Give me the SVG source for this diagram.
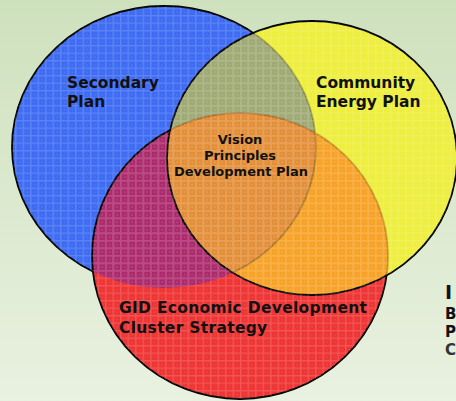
<svg xmlns="http://www.w3.org/2000/svg" xmlns:xlink="http://www.w3.org/1999/xlink" width="456" height="401" viewBox="0 0 456 401">
  <defs>
    <linearGradient id="bg" x1="0" y1="0" x2="0" y2="1">
      <stop offset="0" stop-color="#cee1bd"/>
      <stop offset="1" stop-color="#e9f1e0"/>
    </linearGradient>
    <pattern id="grid" width="7.5" height="7.5" patternUnits="userSpaceOnUse">
      <path d="M0 0.75H7.5M0.75 0V7.5" stroke="#ffffff" stroke-width="1.5" fill="none"/>
      <rect x="4" y="4" width="1.5" height="1.5" fill="#ffffff" opacity="0.6"/>
    </pattern>
    <clipPath id="cB"><ellipse cx="164" cy="147" rx="152" ry="141"/></clipPath>
    <clipPath id="cY"><ellipse cx="312" cy="158" rx="145" ry="137"/></clipPath>
    <clipPath id="cR"><ellipse cx="240" cy="256" rx="148" ry="143"/></clipPath>
    <ellipse id="eB" cx="164" cy="147" rx="152" ry="141"/>
    <ellipse id="eY" cx="312" cy="158" rx="145" ry="137"/>
    <ellipse id="eR" cx="240" cy="256" rx="148" ry="143"/>
    <style>
      .lbl { font-family: "DejaVu Sans", Verdana, sans-serif; font-weight: bold; fill: #111111; }
      .big { font-size: 15.5px; }
      .mid { font-size: 13px; }
      .edge { fill: none; stroke: #000000; stroke-width: 1.8; }
    </style>
  </defs>

  <rect width="456" height="401" fill="url(#bg)"/>

  <g id="secondary-plan">
    <use xlink:href="#eB" class="edge" style="fill:#3d6bf3"/>
  </g>

  <g id="gid-strategy">
    <use xlink:href="#eR" fill="#ef3434"/>
    <use xlink:href="#eR" fill="#ac2a6c" clip-path="url(#cB)"/>
    <use xlink:href="#eR" class="edge"/>
  </g>

  <g id="community-energy-plan">
    <use xlink:href="#eY" fill="#eeee3e"/>
    <use xlink:href="#eY" fill="#9fa974" clip-path="url(#cB)"/>
    <use xlink:href="#eY" fill="#f7a126" clip-path="url(#cR)"/>
    <g clip-path="url(#cB)">
      <use xlink:href="#eY" fill="#e38e36" clip-path="url(#cR)"/>
    </g>
    <g clip-path="url(#cY)" opacity="0.35">
      <use xlink:href="#eB" fill="none" stroke="#3a3a10" stroke-width="1.8"/>
      <use xlink:href="#eR" fill="none" stroke="#7a3000" stroke-width="1.8"/>
    </g>
    <use xlink:href="#eY" class="edge"/>
  </g>

  <g id="texture" opacity="0.16">
    <use xlink:href="#eB" fill="url(#grid)"/>
    <use xlink:href="#eR" fill="url(#grid)"/>
    <use xlink:href="#eY" fill="url(#grid)"/>
  </g>

  <g id="labels">
    <text class="lbl big" x="67" y="88">Secondary</text>
    <text class="lbl big" x="67" y="107">Plan</text>
    <text class="lbl big" x="316" y="88">Community</text>
    <text class="lbl big" x="316" y="107">Energy Plan</text>
    <text class="lbl mid" x="240" y="144" text-anchor="middle">Vision</text>
    <text class="lbl mid" x="240" y="160" text-anchor="middle">Principles</text>
    <text class="lbl mid" x="241" y="176" text-anchor="middle">Development Plan</text>
    <text class="lbl big" x="119" y="313" letter-spacing="0.3">GID Economic Development</text>
    <text class="lbl big" x="119" y="333" letter-spacing="0.3">Cluster Strategy</text>
  </g>

  <g id="side-text">
    <text class="lbl" x="445" y="299" style="font-size:19px">I</text>
    <text class="lbl" x="445" y="319" style="font-size:15px">B</text>
    <text class="lbl" x="445" y="337" style="font-size:15px">P</text>
    <text class="lbl" x="445" y="355" style="font-size:15px;fill:#333333">C</text>
  </g>
</svg>
